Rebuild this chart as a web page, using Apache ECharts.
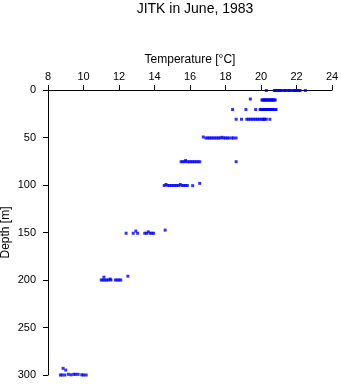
<!DOCTYPE html>
<html>
<head>
<meta charset="utf-8">
<script src="https://cdn.jsdelivr.net/npm/echarts@6/dist/echarts.min.js"></script>
<style>html,body{margin:0;padding:0;background:#fff;}#c{width:341px;height:384px;}</style>
</head>
<body>
<div id="c"></div>
<script>
// Tick labels
const tempTicks = [8, 10, 12, 14, 16, 18, 20, 22, 24];
const depthTicks = [0, 50, 100, 150, 200, 250, 300];

// Observations: [temperature °C, depth m]
const obs0 = [[20.3,0.5],[20.75,0.5],[20.8,0.5],[20.85,0.5],[20.9,0.5],[20.95,0.5],[21.0,0.5],[21.05,0.5],[21.1,0.5],[21.15,0.5],[21.3,0.5],[21.35,0.5],[21.4,0.5],[21.55,0.5],[21.6,0.5],[21.65,0.5],[21.8,0.5],[21.85,0.5],[21.9,0.5],[21.95,0.5],[22.0,0.5],[22.05,0.5],[22.1,0.5],[22.15,0.5],[22.2,0.5],[22.5,0.5]];
const obs10 = [[19.4,9.5],[20.05,10.5],[20.1,10.5],[20.15,10.5],[20.2,10.5],[20.25,10.5],[20.3,10.5],[20.35,10.5],[20.4,10.5],[20.45,10.5],[20.5,10.5],[20.55,10.5],[20.6,10.5],[20.65,10.5],[20.7,10.5],[20.75,10.5],[20.8,10.5]];
const obs20 = [[18.4,20.5],[19.15,20.5],[19.7,20.5],[19.95,20.5],[20.0,20.5],[20.05,20.5],[20.1,20.5],[20.15,20.5],[20.2,20.5],[20.25,20.5],[20.3,20.5],[20.35,20.5],[20.4,20.5],[20.45,20.5],[20.5,20.5],[20.55,20.5],[20.6,20.5],[20.65,20.5],[20.7,20.5],[20.8,20.5],[20.85,20.5]];
const obs30 = [[18.6,30.8],[18.9,30.8],[19.2,30.8],[19.3,30.8],[19.4,30.8],[19.5,30.8],[19.6,30.8],[19.7,30.8],[19.8,30.8],[19.9,30.8],[20.0,30.8],[20.1,30.8],[20.15,30.8],[20.2,30.8],[20.3,30.8],[20.5,30.8]];
const obs50 = [[16.75,49.5],[16.9,50.5],[17.0,50.5],[17.1,50.5],[17.2,50.5],[17.3,50.5],[17.4,50.5],[17.5,50.5],[17.6,50.5],[17.7,50.5],[17.8,49.8],[17.9,50.5],[18.0,50.5],[18.1,50.5],[18.2,50.5],[18.35,50.5],[18.45,50.5],[18.6,50.5]];
const obs75 = [[15.5,75.5],[15.6,75.5],[15.7,75.5],[15.75,74.3],[15.85,75.5],[15.95,75.5],[16.05,75.5],[16.15,75.5],[16.25,75.5],[16.35,75.5],[16.45,75.5],[16.55,75.5],[18.6,75.5]];
const obs100 = [[14.55,100.5],[14.65,99.5],[14.75,100.5],[14.85,100.5],[14.95,100.5],[15.05,100.5],[15.15,100.5],[15.25,100.5],[15.35,100.5],[15.45,99.5],[15.55,100.5],[15.65,100.5],[15.75,100.5],[15.85,100.5],[16.15,100.7],[16.55,98.3]];
const obs150 = [[12.4,150.8],[12.8,150.8],[12.95,148.5],[13.05,150.8],[13.45,150.8],[13.55,150.8],[13.65,149.3],[13.75,150.8],[13.85,150.8],[13.95,150.8],[14.6,147.5]];
const obs200 = [[11.0,200],[11.1,200],[11.15,197],[11.2,200],[11.3,200],[11.4,200],[11.5,199],[11.55,200],[11.8,200],[11.9,200],[12.0,200],[12.1,200],[12.5,196]];
const obs300 = [[8.7,300],[8.8,300],[8.85,293],[8.95,300],[9.0,294.8],[9.15,299.3],[9.3,299.8],[9.45,299.3],[9.55,299.3],[9.7,299.3],[9.9,299.8],[10.0,300],[10.15,300]];

const allObs = [].concat(obs0, obs10, obs20, obs30, obs50, obs75, obs100, obs150, obs200, obs300);

const FONT = 'Liberation Sans, Arial, sans-serif';
const chart = echarts.init(document.getElementById('c'), null, {renderer: 'canvas'});
chart.setOption({
  animation: false,
  backgroundColor: '#fff',
  title: {
    text: 'JITK in June, 1983',
    left: 190,
    textAlign: 'center',
    top: -3,
    textStyle: {fontFamily: FONT, fontSize: 14, fontWeight: 'normal', color: '#000'}
  },
  grid: {left: 48, top: 90, width: 284, height: 285, containLabel: false, outerBoundsMode: 'none'},
  xAxis: {
    type: 'value',
    position: 'top',
    min: tempTicks[0],
    max: tempTicks[tempTicks.length - 1],
    interval: 2,
    name: 'Temperature [\u00B0C]',
    nameLocation: 'middle',
    nameGap: 24,
    nameMoveOverlap: false,
    nameTextStyle: {fontFamily: FONT, fontSize: 12, color: '#000'},
    axisLine: {show: true, onZero: false, lineStyle: {color: '#000', width: 1}},
    axisTick: {show: true, length: 5, inside: false, lineStyle: {color: '#000'}},
    axisLabel: {fontFamily: FONT, fontSize: 11, color: '#000', margin: 8},
    splitLine: {show: false}
  },
  yAxis: {
    type: 'value',
    inverse: true,
    min: depthTicks[0],
    max: depthTicks[depthTicks.length - 1],
    interval: 50,
    name: 'Depth [m]',
    nameLocation: 'middle',
    nameGap: 36,
    nameRotate: 90,
    nameMoveOverlap: false,
    nameTextStyle: {fontFamily: FONT, fontSize: 12, color: '#000'},
    axisLine: {show: true, onZero: false, lineStyle: {color: '#000', width: 1}},
    axisTick: {show: true, length: 5, inside: false, lineStyle: {color: '#000'}},
    axisLabel: {fontFamily: FONT, fontSize: 11, color: '#000', margin: 12},
    splitLine: {show: false}
  },
  series: [{
    type: 'scatter',
    data: allObs,
    symbol: 'rect',
    symbolSize: 3,
    itemStyle: {color: '#0000ff'},
    clip: false
  }]
});
</script>
</body>
</html>
